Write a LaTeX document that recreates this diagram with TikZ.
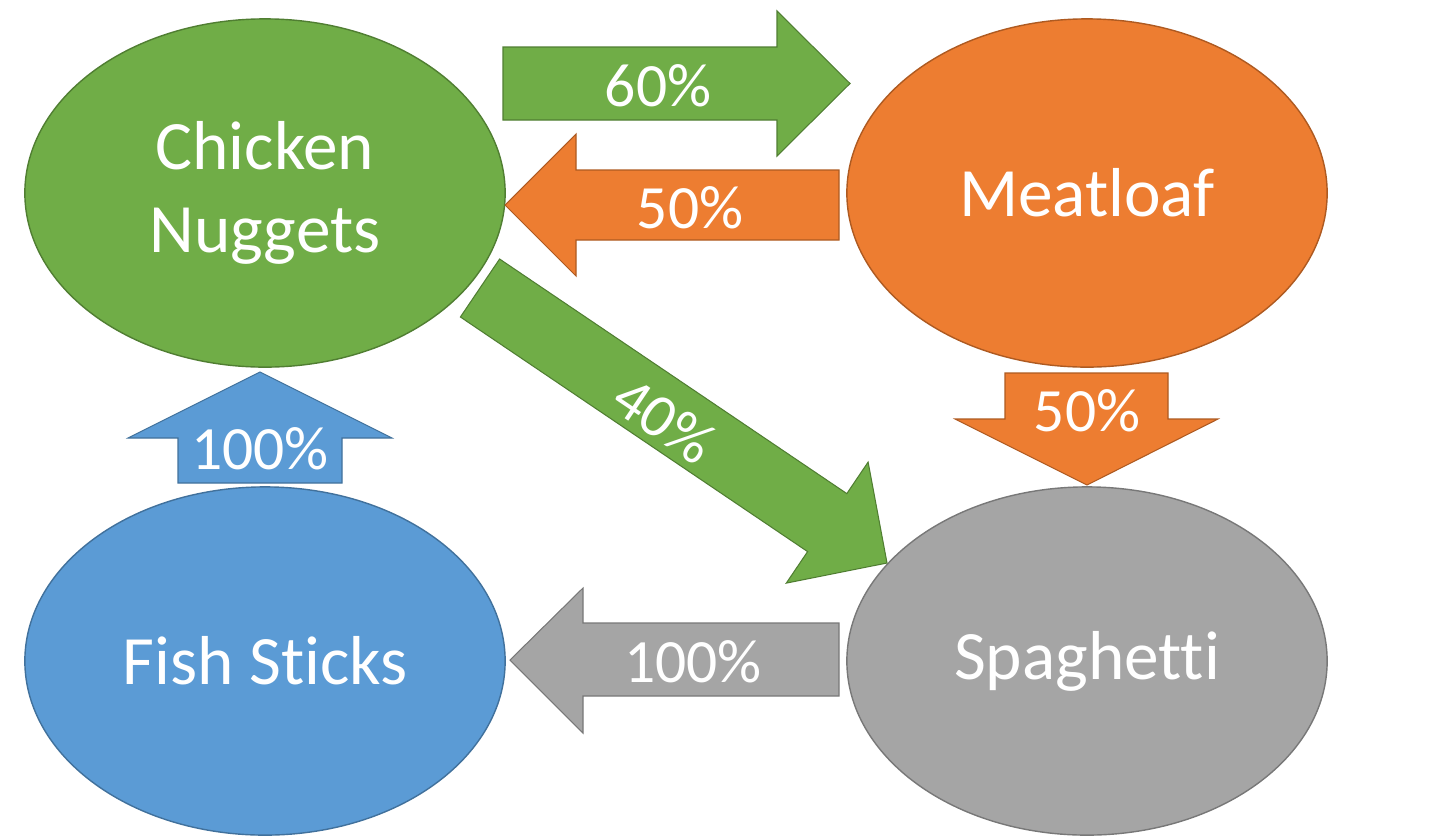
\documentclass[tikz,border=0pt]{standalone}
\usepackage{fontspec}
\setmainfont{Carlito}[Ligatures=NoCommon]
\usetikzlibrary{shapes.geometric}
\definecolor{cgreen}{HTML}{70AD47}
\definecolor{dgreen}{HTML}{507E32}
\definecolor{corange}{HTML}{ED7D31}
\definecolor{dorange}{HTML}{AE5A21}
\definecolor{cblue}{HTML}{5B9BD5}
\definecolor{dblue}{HTML}{41719C}
\definecolor{cgray}{HTML}{A5A5A5}
\definecolor{dgray}{HTML}{787878}
\tikzset{
  dish/.style={ellipse, minimum width=4.8cm, minimum height=3.48cm, inner sep=0pt,
    line width=0.4pt, text=white, align=center,
    font=\fontsize{19.7}{23.6}\selectfont},
  blockarrow/.style={line width=0.3pt, line join=miter},
  pct/.style={text=white, inner sep=0pt, font=\fontsize{17.5}{21}\selectfont},
}
\begin{document}
\begin{tikzpicture}[x=0.01cm, y=-0.01cm]
\useasboundingbox (0,0) rectangle (1446,836);
% dishes
\node[dish, fill=cgreen, draw=dgreen] (cn) at (265,193) {Chicken\\Nuggets};
\node[dish, fill=corange, draw=dorange] (ml) at (1087,193) {Meatloaf};
\node[dish, fill=cblue, draw=dblue] (fs) at (265,661) {Fish Sticks};
\node[dish, fill=cgray, draw=dgray] (sp) at (1087,661) {Spaghetti};
% 60% arrow: Chicken Nuggets -> Meatloaf
\draw[blockarrow, fill=cgreen, draw=dgreen]
  (503,47) -- (777,47) -- (777,11) -- (850,83.5) -- (777,156) -- (777,120) -- (503,120) -- cycle;
\node[pct] (p60) at (658,86) {60\%};
% 50% arrow: Meatloaf -> Chicken Nuggets
\draw[blockarrow, fill=corange, draw=dorange]
  (839,170) -- (576,170) -- (576,134) -- (505,205) -- (576,276) -- (576,240) -- (839,240) -- cycle;
\node[pct] (p50a) at (690,208) {50\%};
% 40% arrow: Chicken Nuggets -> Spaghetti
\draw[blockarrow, fill=cgreen, draw=dgreen]
  (499.6,259) -- (846.8,493.6) -- (868.1,462.1) -- (887,563) -- (786.3,583.1) -- (807.6,551.6) -- (460.4,317) -- cycle;
\node[pct, rotate=-34] (p40) at (664,420) {40\%};
% 50% arrow: Meatloaf -> Spaghetti
\draw[blockarrow, fill=corange, draw=dorange]
  (1005,373) -- (1168,373) -- (1168,419) -- (1218,419) -- (1087,485) -- (955,419) -- (1005,419) -- cycle;
\node[pct] (p50b) at (1087,411) {50\%};
% 100% arrow: Fish Sticks -> Chicken Nuggets
\draw[blockarrow, fill=cblue, draw=dblue]
  (178,483) -- (178,438) -- (128,438) -- (260,372) -- (392,438) -- (342,438) -- (342,483) -- cycle;
\node[pct] (p100a) at (260,449) {100\%};
% 100% arrow: Spaghetti -> Fish Sticks
\draw[blockarrow, fill=cgray, draw=dgray]
  (839,623) -- (583,623) -- (583,588) -- (510,660) -- (583,733) -- (583,696) -- (839,696) -- cycle;
\node[pct] (p100b) at (693,662) {100\%};
\end{tikzpicture}
\end{document}
